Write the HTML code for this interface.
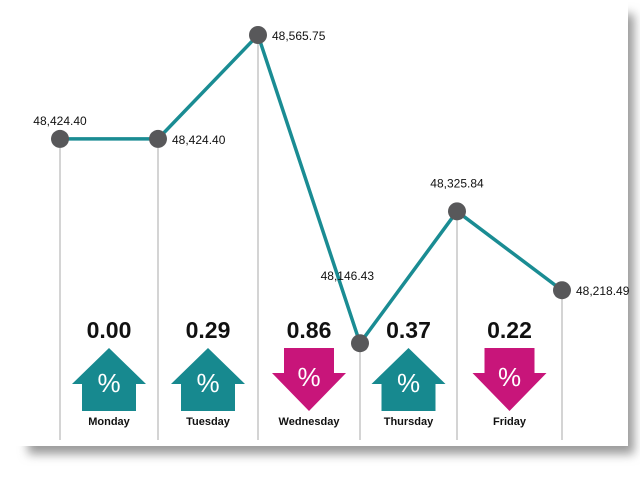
<!DOCTYPE html>
<html><head><meta charset="utf-8"><style>
body{margin:0;background:#fff;width:640px;height:478px;overflow:hidden;font-family:"Liberation Sans",sans-serif}
</style></head><body>
<svg width="640" height="478">
<defs><filter id="sh" x="-10%" y="-10%" width="130%" height="130%"><feGaussianBlur stdDeviation="5"/></filter></defs>
<rect x="28" y="14" width="606" height="440" fill="#999" filter="url(#sh)"/>
<rect x="0" y="0" width="628" height="446" fill="#fff"/>
<g id="g"></g>
</svg>
<script>
const dates=["Start","Monday","Tuesday","Wednesday","Thursday","Friday"];
const values=[48424.40,48424.40,48565.75,48146.43,48325.84,48218.49];
const labels=["48,424.40","48,424.40","48,565.75","48,146.43","48,325.84","48,218.49"];
const days=["Monday","Tuesday","Wednesday","Thursday","Friday"];
const changes=[0.00,0.29,0.86,0.37,0.22];
const dirs=["up","up","down","up","down"];
const xs=[60,158,258,360,457,562];
function xOf(i){return xs[i];}
function yOf(v){return 35+(48565.75-v)*0.735;}
const ns="http://www.w3.org/2000/svg",g=document.getElementById('g');
function el(t,a){const e=document.createElementNS(ns,t);for(const k in a)e.setAttribute(k,a[k]);g.appendChild(e);return e;}
values.forEach((v,i)=>{const l=el('line',{x1:xOf(i),x2:xOf(i),y1:yOf(v),y2:440,stroke:'#aaa','stroke-width':1});

});
const pts=values.map((v,i)=>xOf(i)+','+yOf(v)).join(' ');
const pl=el('polyline',{points:pts,fill:'none',stroke:'#1a8c93','stroke-width':3.5,'stroke-linejoin':'round'});


values.forEach((v,i)=>{const c=el('circle',{cx:xOf(i),cy:yOf(v),r:9,fill:'#58585a'});


const left=(i==0||i==3);
const t=el('text',{x:left?xOf(i)-12:xOf(i)+14,y:yOf(v)+(i==3?-65:(i==4?-24:5)),'font-size':12,fill:'#111','text-anchor':left?'end':'start'});
if(i==3){t.setAttribute('x',xOf(i)+14);t.setAttribute('text-anchor','end');t.setAttribute('y',yOf(v)-63);}
if(i==4){t.setAttribute('x',xOf(i));t.setAttribute('text-anchor','middle');}
if(i==0){t.setAttribute('x',xOf(i));t.setAttribute('text-anchor','middle');t.setAttribute('y',yOf(v)-14);}
t.textContent=labels[i];

});
days.forEach((d,i)=>{const cx=(xOf(i)+xOf(i+1))/2;
const t=el('text',{x:cx,y:338,'font-size':23,'font-weight':'bold','text-anchor':'middle',fill:'#111'});
t.textContent=changes[i].toFixed(2);


let p;
if(dirs[i]=='up')p=`${cx},348 ${cx+37},384 ${cx+27},384 ${cx+27},411 ${cx-27},411 ${cx-27},384 ${cx-37},384`;
else p=`${cx-25},348 ${cx+25},348 ${cx+25},373 ${cx+37},373 ${cx},411 ${cx-37},373 ${cx-25},373`;
const a=el('polygon',{points:p,fill:dirs[i]=='up'?'#17898f':'#c8157a'});


const pc=el('text',{x:cx,y:dirs[i]=='up'?392:386,'font-size':26,fill:'#fff','text-anchor':'middle'});
pc.textContent='%';


const dl=el('text',{x:cx,y:425,'font-size':11,'font-weight':'bold','text-anchor':'middle',fill:'#111'});
dl.textContent=d;

});
</script>
</body></html>
